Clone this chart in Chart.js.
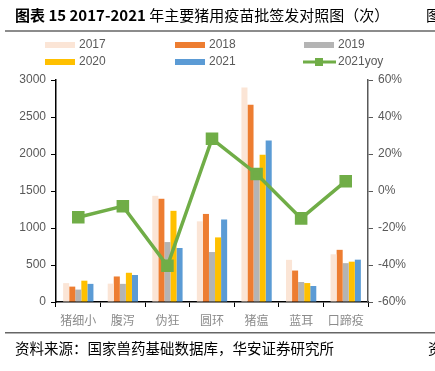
<!DOCTYPE html>
<html>
<head>
<meta charset="utf-8">
<script src="https://cdn.jsdelivr.net/npm/chart.js@4"></script>
<style>
  html, body { margin: 0; padding: 0; background: #fff; }
  #wrap { width: 435px; height: 371px; position: relative; }
</style>
</head>
<body>
<div id="wrap"><canvas id="myChart" width="435" height="371"></canvas></div>
<script>
// categories and values
const categories = ["猪细小", "腹泻", "伪狂", "圆环", "猪瘟", "蓝耳", "口蹄疫"];
const v2017 = [255, 248, 1435, 1090, 2900, 570, 645];
const v2018 = [208, 345, 1395, 1190, 2665, 425, 705];
const v2019 = [168, 245, 810, 675, 1720, 270, 525];
const v2020 = [288, 395, 1232, 873, 1990, 256, 545];
const v2021 = [245, 365, 730, 1115, 2182, 216, 572];
const yoy2021 = [-14.2, -8.2, -40.4, 28.2, 9.2, -14.8, 5.3];
const leftTicks = [0, 500, 1000, 1500, 2000, 2500, 3000];
const rightTicks = [-60, -40, -20, 0, 20, 40, 60];

const barColors = ["#FBE5D6", "#ED7D31", "#B4B4B4", "#FFC000", "#5B9BD5"];
const barNames = ["2017", "2018", "2019", "2020", "2021"];
const barValues = [v2017, v2018, v2019, v2020, v2021];
const lineColor = "#70AD47";

const tickFont = { family: "'Liberation Sans', Arial, sans-serif", size: 12 };
const cjk = "'Noto Sans CJK SC', sans-serif";

// title, rules, legend and source line drawn on the canvas
const decor = {
  id: "decor",
  afterDraw(chart) {
    const ctx = chart.ctx;
    ctx.save();
    // title
    ctx.fillStyle = "#000";
    ctx.textBaseline = "middle";
    ctx.textAlign = "left";
    ctx.font = "bold 15px " + cjk;
    const head = "图表 15 2017-2021 ";
    ctx.fillText(head, 15, 15);
    const w = ctx.measureText(head).width;
    ctx.font = "15px " + cjk;
    ctx.fillText("年主要猪用疫苗批签发对照图（次）", 15 + w, 15);
    ctx.fillText("图", 426, 15);
    // rules
    ctx.fillStyle = "#8c8c8c";
    ctx.fillRect(5, 30, 430, 2);
    ctx.fillStyle = "#666";
    ctx.fillRect(5, 332, 430, 1.5);
    // source
    ctx.fillStyle = "#000";
    ctx.font = "14.5px " + cjk;
    ctx.fillText("资料来源：国家兽药基础数据库，华安证券研究所", 15, 348);
    ctx.fillText("资", 428, 348);
    // legend
    const cols = [45, 175, 304];
    const rows = [45, 62];
    const items = barNames.map((n, i) => ({ name: n, color: barColors[i], line: false }));
    items.push({ name: "2021yoy", color: lineColor, line: true });
    ctx.font = tickFont.size + "px " + tickFont.family;
    items.forEach((it, i) => {
      const x = cols[i % 3], y = rows[Math.floor(i / 3)];
      if (it.line) {
        ctx.strokeStyle = it.color;
        ctx.lineWidth = 3;
        ctx.beginPath();
        ctx.moveTo(x - 1, y);
        ctx.lineTo(x + 32, y);
        ctx.stroke();
        ctx.fillStyle = it.color;
        ctx.fillRect(x + 11, y - 4, 8, 8);
      } else {
        ctx.fillStyle = it.color;
        ctx.fillRect(x, y - 3, 30, 6);
      }
      ctx.fillStyle = "#595959";
      ctx.fillText(it.name, x + 34, y);
    });
    ctx.restore();
  }
};

const datasets = barValues.map((vals, i) => ({
  type: "bar",
  label: barNames[i],
  data: vals,
  backgroundColor: barColors[i],
  yAxisID: "y",
  order: 1,
  barPercentage: 1,
  categoryPercentage: 0.68
}));
datasets.push({
  type: "line",
  label: "2021yoy",
  data: yoy2021,
  borderColor: lineColor,
  backgroundColor: lineColor,
  borderWidth: 3.5,
  pointStyle: "rect",
  pointRadius: 6.4,
  pointHoverRadius: 6.4,
  yAxisID: "y1",
  order: 0,
  tension: 0
});

new Chart(document.getElementById("myChart").getContext("2d"), {
  data: { labels: categories, datasets: datasets },
  options: {
    responsive: false,
    animation: false,
    layout: { padding: { top: 80, left: 0, right: 0, bottom: 0 } },
    plugins: { legend: { display: false }, tooltip: { enabled: false } },
    scales: {
      x: {
        offset: true,
        afterFit: s => { s.height = 69; },
        grid: { offset: true, drawOnChartArea: false, tickLength: 5, color: "#000" },
        border: { color: "#000", width: 1.5 },
        ticks: { color: "#8c8c8c", font: { family: cjk, size: 12 }, padding: 6 }
      },
      y: {
        position: "left",
        min: 0, max: 3000,
        afterFit: s => { s.width = 56; },
        afterBuildTicks: s => { s.ticks = leftTicks.map(v => ({ value: v })); },
        grid: { drawOnChartArea: false, tickLength: 5, color: "#000" },
        border: { color: "#000", width: 1.5 },
        ticks: { color: "#595959", font: tickFont, padding: 5, callback: v => String(v) }
      },
      y1: {
        position: "right",
        min: -60, max: 60,
        afterFit: s => { s.width = 67; },
        afterBuildTicks: s => { s.ticks = rightTicks.map(v => ({ value: v })); },
        grid: { drawOnChartArea: false, tickLength: 5, color: "#595959" },
        border: { color: "#595959", width: 1.5 },
        ticks: { color: "#595959", font: tickFont, padding: 5, callback: v => v + "%" }
      }
    }
  },
  plugins: [decor]
});
</script>
</body>
</html>
